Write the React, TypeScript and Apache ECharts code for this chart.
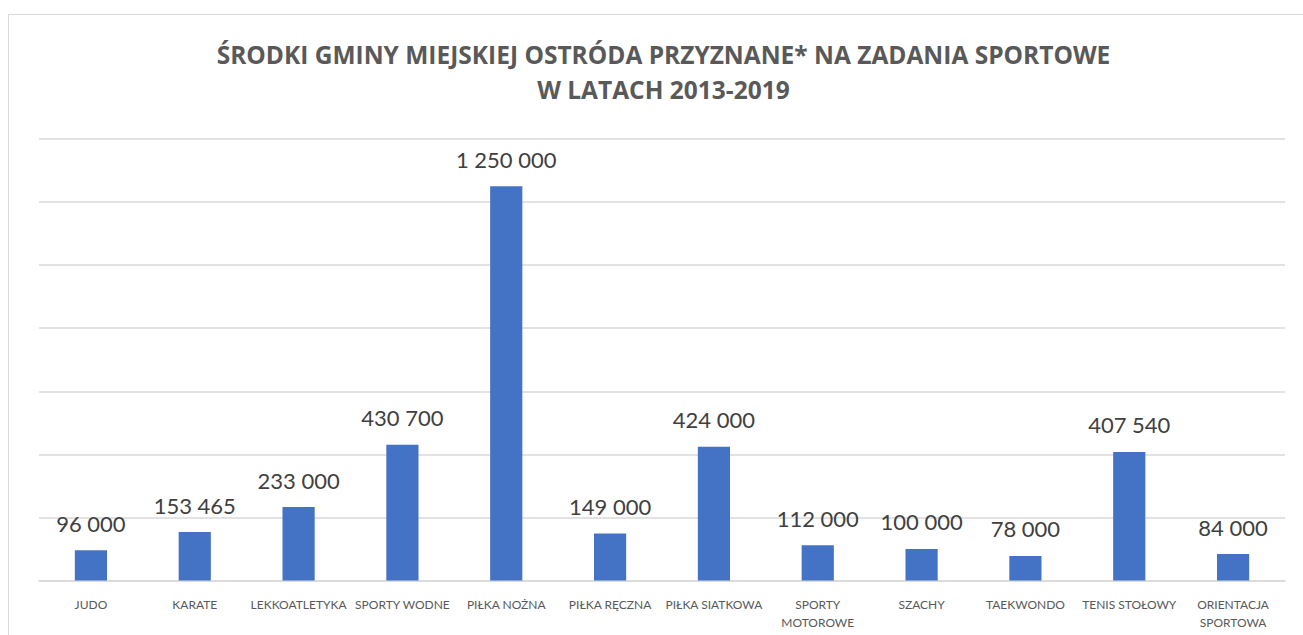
import React, { useEffect, useRef } from "react";
import * as echarts from "echarts";

const titleLines = [
  "ŚRODKI GMINY MIEJSKIEJ OSTRÓDA PRZYZNANE* NA ZADANIA SPORTOWE",
  "W LATACH 2013-2019",
];

const categories = [
  "JUDO",
  "KARATE",
  "LEKKOATLETYKA",
  "SPORTY WODNE",
  "PIŁKA NOŻNA",
  "PIŁKA RĘCZNA",
  "PIŁKA SIATKOWA",
  "SPORTY\nMOTOROWE",
  "SZACHY",
  "TAEKWONDO",
  "TENIS STOŁOWY",
  "ORIENTACJA\nSPORTOWA",
];

const values = [96000, 153465, 233000, 430700, 1250000, 149000, 424000, 112000, 100000, 78000, 407540, 84000];

const yMin = 0;
const yMax = 1400000;
const yStep = 200000;

const fmt = (v: number) => String(Math.round(v)).replace(/\B(?=(\d{3})+(?!\d))/g, " ");

export default function App() {
  const ref = useRef<HTMLDivElement>(null);

  useEffect(() => {
    if (!ref.current) return;
    const chart = echarts.init(ref.current, undefined, { renderer: "svg" });
    chart.setOption({
      animation: false,
      backgroundColor: "#ffffff",
      title: {
        text: titleLines.join("\n"),
        left: "center",
        top: 22,
        padding: 0,
        textStyle: {
          fontFamily: "Open Sans",
          fontWeight: "bold",
          fontSize: 24.5,
          lineHeight: 35,
          color: "#595959",
        },
      },
      grid: { left: 30, right: 33, top: 124, bottom: 73.5, containLabel: false },
      xAxis: {
        type: "category",
        data: categories,
        axisLine: { lineStyle: { color: "#d9d9d9", width: 1.5 } },
        axisTick: { show: false },
        axisLabel: {
          interval: 0,
          margin: 15,
          fontFamily: "Lato",
          fontSize: 12,
          lineHeight: 18,
          color: "#595959",
        },
      },
      yAxis: {
        type: "value",
        min: yMin,
        max: yMax,
        interval: yStep,
        axisLabel: { show: false },
        axisLine: { show: false },
        axisTick: { show: false },
        splitLine: { lineStyle: { color: "#d9d9d9", width: 1.5 } },
      },
      series: [
        {
          type: "bar",
          data: values,
          barWidth: "31%",
          itemStyle: { color: "#4472C4" },
          label: {
            show: true,
            position: "top",
            distance: 16,
            formatter: (p: any) => fmt(p.value),
            fontFamily: "Lato",
            fontSize: 22,
            color: "#404040",
          },
        },
      ],
    });
    return () => chart.dispose();
  }, []);

  return (
    <div
      style={{
        position: "fixed",
        left: 8,
        top: 14,
        width: 1310,
        height: 640,
        borderLeft: "1px solid #d9d9d9",
        borderTop: "1px solid #d9d9d9",
        background: "#fff",
      }}
    >
      <div ref={ref} style={{ width: 1309, height: 639 }} />
    </div>
  );
}
